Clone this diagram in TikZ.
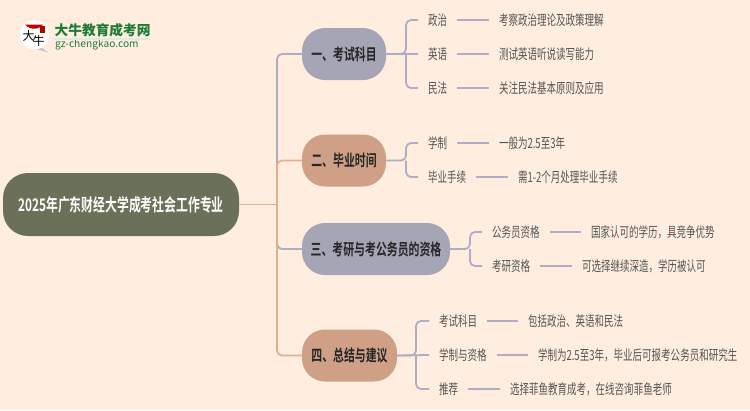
\documentclass[tikz,border=0pt]{standalone}
\usepackage{fontspec}
\setmainfont{Noto Sans CJK SC}
\newfontfamily\leaffont[FakeStretch=0.68]{Noto Sans CJK SC}
\newfontfamily\topicfont[FakeStretch=0.68,BoldFont={Noto Sans CJK SC Bold}]{Noto Sans CJK SC}
\newfontfamily\logofont{Noto Sans CJK SC}
\usepackage{tikz}
\definecolor{paper}{HTML}{FFEEE0}
\definecolor{rootgreen}{HTML}{6B7059}
\definecolor{topicgray}{HTML}{A5A5B5}
\definecolor{topictan}{HTML}{CFA086}
\definecolor{linegray}{HTML}{AEAEC6}
\definecolor{linetan}{HTML}{E2B08F}
\definecolor{leafgray}{HTML}{555555}
\definecolor{logogreen}{HTML}{1E7B36}
\tikzset{
  x=1pt, y=-1pt,
  topic/.style={rounded corners=23pt, inner sep=0pt, minimum height=52pt, font=\topicfont\bfseries\fontsize{16}{16}\selectfont, text=black!85},
  grayline/.style={draw=linegray, line width=1.8pt, rounded corners=5pt},
  tanline/.style={draw=linetan, line width=1.8pt, rounded corners=5pt},
  leaf/.style={anchor=west, xshift=-10pt, inner sep=0pt, outer sep=10pt, font=\leaffont\fontsize{14}{14}\selectfont, text=leafgray},
}
\begin{document}
\begin{tikzpicture}
  \fill [paper] (0,0) rectangle (750,410);
  \useasboundingbox (0,0) rectangle (750,410);
  % logo
  \fill [gray!45] (41,47) -- (48,52.5) -- (36,49) -- cycle;
  \fill [white] (34.5,35) circle (14.5);
  \fill [red!75!black] (25,24.5) arc (140:40:12) -- cycle;
  \fill [red!70!black] (39.5,26) rectangle (45,33);
  \node (logomark) [inner sep=0pt, font=\logofont\fontsize{12}{12}\selectfont] at (33.5,38) {\raisebox{2pt}{大}\kern-2pt\raisebox{-3pt}{牛}};
  \node (logotitle) [anchor=west, inner sep=0pt, text=logogreen, font=\logofont\bfseries\fontsize{13.7}{14}\selectfont] at (54.5,30) {大牛教育成考网};
  \node (logourl) [anchor=west, inner sep=0pt, text=logogreen, font=\logofont\fontsize{10.2}{11}\selectfont] at (55,45) {gz-chengkao.com};
  \fill [logogreen!15] (54,38) rectangle (150,39.5);
  % centre and topics
  \node (root) [topic, fill=rootgreen, text=white, minimum width=236pt, minimum height=63pt, rounded corners=25pt, font=\topicfont\bfseries\fontsize{17.4}{18}\selectfont] at (121,204.5) {2025年广东财经大学成考社会工作专业};
  \node (exam) [topic, fill=topicgray, minimum width=84pt] at (344,54) {一、考试科目};
  \node (time) [topic, fill=topictan, minimum width=84pt] at (344,160.5) {二、毕业时间};
  \node (qual) [topic, fill=topicgray, minimum width=148pt] at (376,249) {三、考研与考公务员的资格};
  \node (sum) [topic, fill=topictan, minimum width=95pt] at (349.5,355.5) {四、总结与建议};
  \coordinate (spine) at (277,204.5);
  \coordinate (forkexam) at (406,54);
  \coordinate (forktime) at (406,160.5);
  \coordinate (forkqual) at (470,249);
  \coordinate (forksum) at (416,355.5);
  % first topic
  \node (politics) [leaf] at (428,20) {政治};
  \node (english) [leaf] at (428,54) {英语};
  \node (civil) [leaf] at (428,88) {民法};
  \node (politicsnote) [leaf] at (499,20) {考察政治理论及政策理解};
  \node (englishnote) [leaf] at (499,54) {测试英语听说读写能力};
  \node (civilnote) [leaf] at (499,88) {关注民法基本原则及应用};
  % second topic
  \node (length) [leaf] at (428,143) {学制};
  \node (formal) [leaf] at (428,177) {毕业手续};
  \node (lengthnote) [leaf] at (499,143) {一般为2.5至3年};
  \node (formalnote) [leaf] at (518,177) {需1-2个月处理毕业手续};
  % third topic
  \node (civilserv) [leaf] at (492,232) {公务员资格};
  \node (postgrad) [leaf] at (492,266) {考研资格};
  \node (civilservnote) [leaf] at (591,232) {国家认可的学历，具竞争优势};
  \node (postgradnote) [leaf] at (582,266) {可选择继续深造，学历被认可};
  % fourth topic
  \node (subjects) [leaf] at (439,321) {考试科目};
  \node (lenqual) [leaf] at (439,355) {学制与资格};
  \node (advice) [leaf] at (439,389) {推荐};
  \node (subjectsnote) [leaf] at (528,321) {包括政治、英语和民法};
  \node (lenqualnote) [leaf] at (538,355) {学制为2.5至3年，毕业后可报考公务员和研究生};
  \node (advicenote) [leaf] at (510,389) {选择菲鱼教育成考，在线咨询菲鱼老师};
  % connectors
  \draw [tanline] (root.east) -- (spine);
  \draw [grayline] (spine) |- (exam.west);
  \draw [tanline] (spine) |- (time.west);
  \draw [grayline] (spine) |- (qual.west);
  \draw [tanline] (spine) |- (sum.west);
  \draw [grayline] (exam.east) -- (forkexam) |- (politics.west);
  \draw [grayline] (exam.east) -- (english.west);
  \draw [grayline] (forkexam) |- (civil.west);
  \draw [grayline] (time.east) -- (forktime) |- (length.west);
  \draw [grayline] (forktime) |- (formal.west);
  \draw [grayline] (qual.east) -- (forkqual) |- (civilserv.west);
  \draw [grayline] (forkqual) |- (postgrad.west);
  \draw [grayline] (sum.east) -- (forksum) |- (subjects.west);
  \draw [grayline] (sum.east) -- (lenqual.west);
  \draw [grayline] (forksum) |- (advice.west);
  \draw [grayline] (politics) -- (politicsnote);
  \draw [grayline] (english) -- (englishnote);
  \draw [grayline] (civil) -- (civilnote);
  \draw [grayline] (length) -- (lengthnote);
  \draw [grayline] (formal) -- (formalnote);
  \draw [grayline] (civilserv) -- (civilservnote);
  \draw [grayline] (postgrad) -- (postgradnote);
  \draw [grayline] (subjects) -- (subjectsnote);
  \draw [grayline] (lenqual) -- (lenqualnote);
  \draw [grayline] (advice) -- (advicenote);
\end{tikzpicture}
\end{document}
